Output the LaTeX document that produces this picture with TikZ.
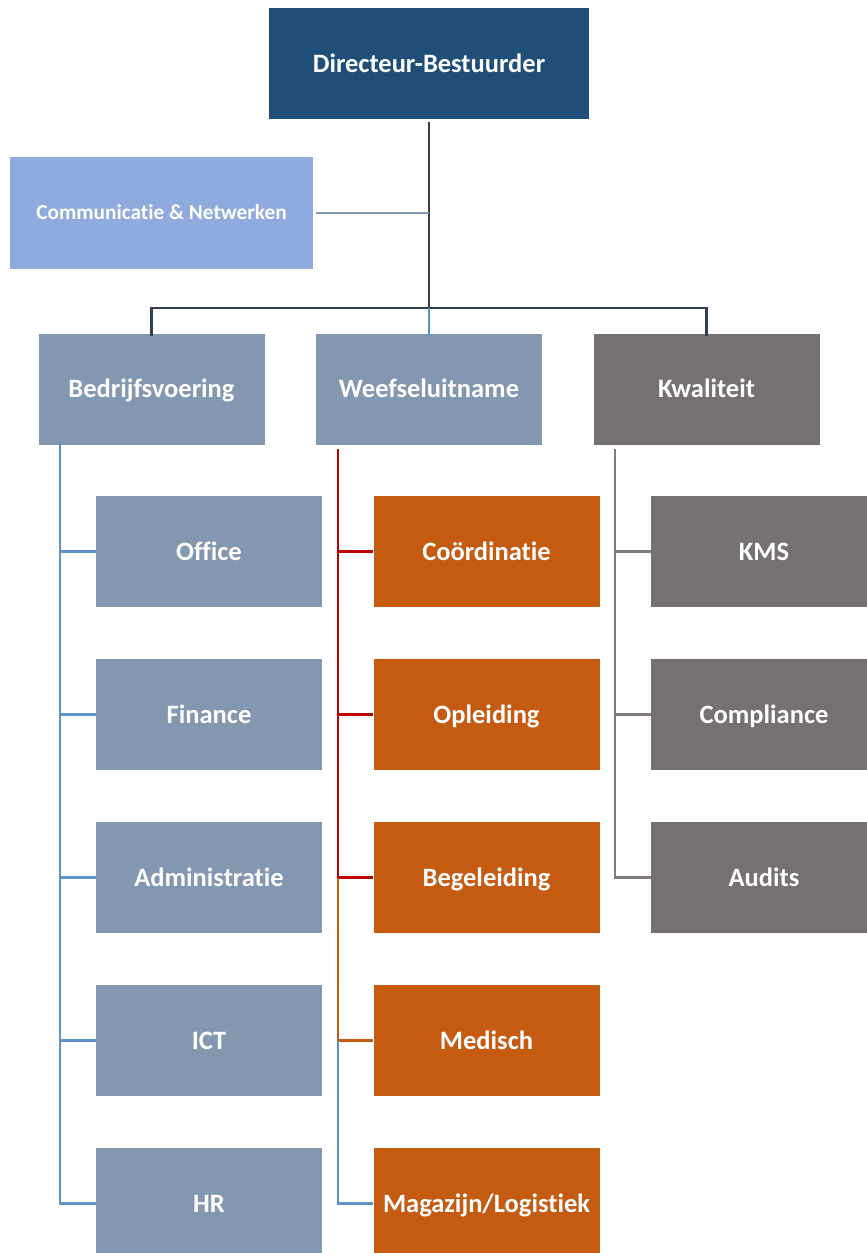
\documentclass[tikz,border=0pt]{standalone}
\usepackage{fontspec}
\setmainfont{Carlito}[Ligatures=NoCommon]
\definecolor{cdir}{RGB}{31,78,121}
\definecolor{ccom}{RGB}{143,170,220}
\definecolor{cblu}{RGB}{132,151,176}
\definecolor{cgry}{RGB}{118,113,113}
\definecolor{corg}{RGB}{197,90,17}
\definecolor{ldark}{RGB}{51,63,80}
\definecolor{lcom}{RGB}{132,151,176}
\definecolor{lblue}{RGB}{91,146,200}
\definecolor{lred}{RGB}{192,0,0}
\definecolor{lorg}{RGB}{197,90,17}
\definecolor{lgry}{RGB}{128,122,122}
\tikzset{
  box/.style={draw=none, minimum width=226pt, minimum height=111pt, inner sep=0pt,
    text=white, text height=17pt, text depth=0pt,
    font=\bfseries\fontsize{26.5}{30}\selectfont},
  conn/.style={line width=2.2pt},
}
\begin{document}
\begin{tikzpicture}[x=1pt,y=-1pt]
\useasboundingbox (0,0) rectangle (867,1253);
\fill[white] (0,0) rectangle (867,1253);
% top
\node[box, fill=cdir, minimum width=320pt] (dir) at (429,63.5) {Directeur-Bestuurder};
\node[box, fill=ccom, minimum width=303pt, minimum height=112pt, text height=13.7pt, font=\bfseries\fontsize{21.3}{25}\selectfont] (com) at (161.5,213) {Communicatie \& Netwerken};
% level 2
\node[box, fill=cblu] (bed) at (151.5,389) {Bedrijfsvoering};
\node[box, fill=cblu] (wee) at (429,389) {Weefseluitname};
\node[box, fill=cgry] (kwa) at (706.5,389) {Kwaliteit};
% children
\foreach \n/\t [count=\i] in {b1/Office,b2/Finance,b3/Administratie,b4/ICT,b5/HR}{
  \node[box, fill=cblu] (\n) at (209,551.5+163*\i-163) {\t};
}
\foreach \n/\t [count=\i] in {w1/Coördinatie,w2/Opleiding,w3/Begeleiding,w4/Medisch,w5/{Magazijn/Logistiek}}{
  \node[box, fill=corg] (\n) at (486.5,551.5+163*\i-163) {\t};
}
\foreach \n/\t [count=\i] in {k1/KMS,k2/Compliance,k3/Audits}{
  \node[box, fill=cgry] (\n) at (764,551.5+163*\i-163) {\t};
}
% connectors top
\coordinate (jc) at (429,213);
\coordinate (jb) at (429,308);
\draw[conn, ldark] (dir.south) ++(0,3) -- (jb);
\draw[conn, lcom] (com.east) ++(3,0) -- (jc);
\draw[conn, ldark] ([yshift=-3pt]bed.north) |- (jb) -| ([yshift=-3pt]kwa.north);
\draw[conn, lblue] (jb) -- ([yshift=-3pt]wee.north);
% Bedrijfsvoering branch
\draw[conn, lblue] ([xshift=-91.5pt,yshift=4pt]bed.south) |- (b5.west);
\foreach \n in {b1,b2,b3,b4}{\draw[conn, lblue] (\n.west) -- ++(-36,0);}
% Weefseluitname branch
\coordinate (wv) at (338,449);
\draw[conn, lred] (wv) |- (w3.west);
\draw[conn, lred] (w1.west) -- (w1.west -| wv);
\draw[conn, lred] (w2.west) -- (w2.west -| wv);
\draw[conn, lorg] (w3.west -| wv) |- (w4.west);
\draw[conn, lblue] (w4.west -| wv) |- (w5.west);
% Kwaliteit branch
\coordinate (kv) at (615,449);
\draw[conn, lgry] (kv) |- (k3.west);
\draw[conn, lgry] (k1.west) -- (k1.west -| kv);
\draw[conn, lgry] (k2.west) -- (k2.west -| kv);
\end{tikzpicture}
\end{document}
